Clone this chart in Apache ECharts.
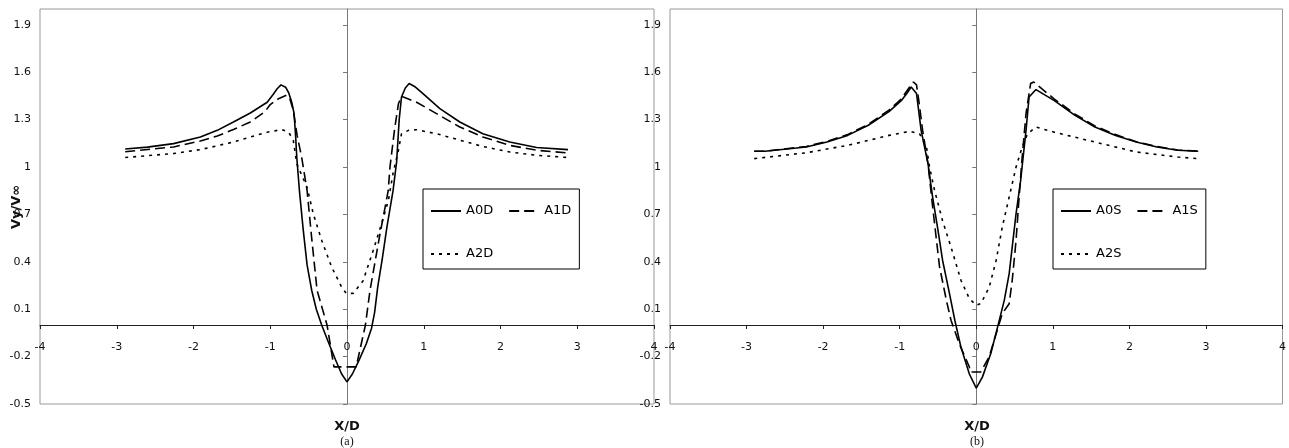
<!DOCTYPE html>
<html>
<head>
<meta charset="utf-8">
<script src="https://cdn.jsdelivr.net/npm/echarts@6/dist/echarts.min.js"></script>
<style>
html,body{margin:0;padding:0;background:#fff;}
#chart{width:1289px;height:448px;}
</style>
</head>
<body>
<div id="chart"></div>
<script>
// ---- tick labels ----
const xTicks = [-4, -3, -2, -1, 0, 1, 2, 3, 4];
const yTicks = [-0.5, -0.2, 0.1, 0.4, 0.7, 1, 1.3, 1.6, 1.9];

// ---- panel (a) ----
const a0dX = [-2.89, -2.6, -2.26, -1.91, -1.69, -1.48, -1.26, -1.04, -0.96, -0.91, -0.86, -0.80, -0.76, -0.72, -0.69, -0.67, -0.654, -0.62, -0.57, -0.52, -0.46, -0.40, -0.33, -0.25, -0.15, -0.07, 0, 0.07, 0.15, 0.25, 0.32, 0.36, 0.40, 0.46, 0.52, 0.60, 0.646, 0.68, 0.71, 0.76, 0.81, 0.88, 0.99, 1.21, 1.47, 1.77, 2.12, 2.47, 2.88];
const a0dY = [1.114, 1.126, 1.148, 1.19, 1.232, 1.285, 1.342, 1.41, 1.46, 1.495, 1.52, 1.505, 1.47, 1.41, 1.34, 1.2, 1.06, 0.85, 0.6, 0.38, 0.22, 0.1, 0.0, -0.1, -0.22, -0.31, -0.36, -0.31, -0.23, -0.12, -0.02, 0.08, 0.24, 0.42, 0.62, 0.85, 1.03, 1.3, 1.443, 1.50, 1.528, 1.51, 1.465, 1.37, 1.285, 1.21, 1.158, 1.123, 1.11];

const a1dX = [-2.89, -2.26, -1.91, -1.69, -1.48, -1.26, -1.07, -1.0, -0.9, -0.79, -0.75, -0.70, -0.65, -0.59, -0.52, -0.46, -0.39, -0.26, -0.17, 0.12, 0.24, 0.30, 0.42, 0.537, 0.56, 0.62, 0.67, 0.71, 0.80, 0.906, 1.166, 1.47, 1.77, 2.12, 2.47, 2.87];
const a1dY = [1.097, 1.127, 1.165, 1.196, 1.237, 1.285, 1.35, 1.395, 1.43, 1.454, 1.44, 1.36, 1.2, 1.06, 0.85, 0.55, 0.22, 0.0, -0.265, -0.265, 0.0, 0.22, 0.55, 0.85, 1.0, 1.24, 1.40, 1.447, 1.43, 1.41, 1.338, 1.253, 1.19, 1.137, 1.106, 1.089];

const a2dX = [-2.89, -2.26, -1.91, -1.48, -1.26, -1.04, -0.85, -0.76, -0.70, -0.654, -0.52, -0.44, -0.33, -0.2, -0.07, -0.01, 0.08, 0.21, 0.34, 0.45, 0.54, 0.60, 0.67, 0.71, 0.80, 0.906, 1.17, 1.47, 1.77, 2.12, 2.47, 2.88];
const a2dY = [1.06, 1.085, 1.11, 1.158, 1.19, 1.22, 1.237, 1.22, 1.17, 1.02, 0.87, 0.705, 0.536, 0.367, 0.24, 0.2, 0.2, 0.28, 0.47, 0.64, 0.79, 0.96, 1.106, 1.21, 1.232, 1.236, 1.21, 1.17, 1.13, 1.095, 1.074, 1.06];

// ---- panel (b) ----
const a0sX = [-2.9, -2.76, -2.22, -1.95, -1.68, -1.41, -1.14, -0.98, -0.90, -0.85, -0.78, -0.72, -0.63, -0.57, -0.50, -0.44, -0.35, -0.28, -0.2, -0.09, 0, 0.08, 0.19, 0.28, 0.366, 0.43, 0.47, 0.52, 0.58, 0.65, 0.69, 0.78, 0.80, 1.02, 1.29, 1.55, 1.82, 2.09, 2.36, 2.63, 2.9];
const a0sY = [1.10, 1.10, 1.127, 1.158, 1.20, 1.264, 1.35, 1.42, 1.47, 1.506, 1.465, 1.232, 1.02, 0.81, 0.60, 0.41, 0.2, 0.03, -0.14, -0.31, -0.40, -0.33, -0.18, -0.01, 0.156, 0.325, 0.494, 0.705, 0.916, 1.232, 1.443, 1.49, 1.50, 1.42, 1.327, 1.253, 1.20, 1.158, 1.127, 1.106, 1.10];

const a1sX = [-2.9, -2.76, -2.22, -1.95, -1.68, -1.41, -1.14, -0.98, -0.88, -0.82, -0.78, -0.75, -0.70, -0.63, -0.57, -0.48, -0.39, -0.33, -0.22, -0.09, -0.08, 0.06, 0.17, 0.26, 0.34, 0.43, 0.47, 0.52, 0.56, 0.60, 0.65, 0.71, 0.75, 1.02, 1.29, 1.55, 1.82, 2.09, 2.36, 2.63, 2.9];
const a1sY = [1.10, 1.10, 1.13, 1.162, 1.205, 1.27, 1.36, 1.43, 1.50, 1.538, 1.52, 1.42, 1.23, 1.02, 0.75, 0.37, 0.156, 0.03, -0.12, -0.266, -0.297, -0.297, -0.2, -0.055, 0.072, 0.135, 0.283, 0.536, 0.81, 1.063, 1.338, 1.528, 1.538, 1.43, 1.335, 1.26, 1.205, 1.16, 1.13, 1.108, 1.10];

const a2sX = [-2.9, -2.22, -1.68, -1.14, -0.87, -0.74, -0.65, -0.61, -0.545, -0.44, -0.33, -0.2, -0.09, 0, 0.06, 0.17, 0.26, 0.34, 0.43, 0.52, 0.60, 0.67, 0.78, 1.02, 1.55, 2.09, 2.63, 2.9];
const a2sY = [1.053, 1.09, 1.137, 1.20, 1.226, 1.21, 1.127, 1.0, 0.853, 0.66, 0.494, 0.283, 0.167, 0.125, 0.135, 0.24, 0.41, 0.62, 0.81, 1.0, 1.127, 1.21, 1.253, 1.22, 1.158, 1.095, 1.063, 1.053];

const seriesNamesA = ['A0D', 'A1D', 'A2D'];
const seriesNamesB = ['A0S', 'A1S', 'A2S'];

function zip(xs, ys) { return xs.map((x, i) => [x, ys[i]]); }

const FONT = 'DejaVu Sans';
const styles = [
  { type: 'solid', width: 1.6 },
  { type: [10, 5], width: 1.6 },
  { type: [3, 5], width: 1.6 }
];

function mkX(gi, offset) {
  return {
    type: 'value', gridIndex: gi, min: -4, max: 4, interval: 1,
    position: 'bottom', offset: offset,
    axisLine: { onZero: false, lineStyle: { color: '#222', width: 1 } },
    axisTick: { show: true, length: 4, lineStyle: { color: '#222' } },
    axisLabel: { margin: 17, fontFamily: FONT, fontSize: 11, color: '#111' },
    splitLine: { show: false }
  };
}
function mkY(gi) {
  return {
    type: 'value', gridIndex: gi, min: -0.5, max: 2.0,
    axisLine: { show: true, onZero: true, lineStyle: { color: '#777', width: 1 } },
    axisTick: { show: true, length: 4, customValues: yTicks, lineStyle: { color: '#777' } },
    axisLabel: { margin: 9, fontFamily: FONT, fontSize: 11, color: '#111', customValues: yTicks },
    splitLine: { show: false }
  };
}
function mkSeries(names, arrs, gi) {
  return names.map((n, i) => ({
    name: n, type: 'line', xAxisIndex: gi, yAxisIndex: gi,
    data: zip(arrs[i][0], arrs[i][1]),
    symbol: 'none', smooth: false, silent: true, animation: false,
    itemStyle: { color: '#000' },
    lineStyle: { color: '#000', type: styles[i].type, width: styles[i].width }
  }));
}
function mkLegend(names, left) {
  return {
    data: names, left: left, top: 189, width: 145, orient: 'horizontal',
    itemWidth: 30, itemHeight: 14, itemGap: 15,
    padding: [8, 8, 1, 7],
    borderColor: '#000', borderWidth: 1, backgroundColor: '#fff',
    itemStyle: { opacity: 0, borderWidth: 0 },
    textStyle: { fontFamily: FONT, fontSize: 13, color: '#000', lineHeight: 28 },
    selectedMode: false
  };
}

const chart = echarts.init(document.getElementById('chart'), null, { renderer: 'canvas' });
chart.setOption({
  animation: false,
  backgroundColor: '#fff',
  grid: [
    { left: 40, top: 9, width: 614, height: 395, show: true, borderColor: '#999', borderWidth: 1, containLabel: false },
    { left: 670, top: 9, width: 614, height: 395, show: true, borderColor: '#999', borderWidth: 1, containLabel: false }
  ],
  xAxis: [mkX(0, 0), mkX(1, 0)],
  yAxis: [mkY(0), mkY(1)],
  legend: [mkLegend(seriesNamesA, 423), mkLegend(seriesNamesB, 1053)],
  series: [].concat(
    mkSeries(seriesNamesA, [[a0dX, a0dY], [a1dX, a1dY], [a2dX, a2dY]], 0),
    mkSeries(seriesNamesB, [[a0sX, a0sY], [a1sX, a1sY], [a2sX, a2sY]], 1)
  ),
  graphic: [
    { type: 'text', x: 17, y: 207, rotation: Math.PI / 2,
      style: { text: 'Vy/V∞', font: 'bold 13px "DejaVu Sans"', fill: '#111', textAlign: 'center', textVerticalAlign: 'middle' } },
    { type: 'text', x: 347, y: 427,
      style: { text: 'X/D', font: 'bold 13px "DejaVu Sans"', fill: '#111', textAlign: 'center', textVerticalAlign: 'middle' } },
    { type: 'text', x: 347, y: 442,
      style: { text: '(a)', font: '12px "Liberation Serif"', fill: '#111', textAlign: 'center', textVerticalAlign: 'middle' } },
    { type: 'text', x: 977, y: 427,
      style: { text: 'X/D', font: 'bold 13px "DejaVu Sans"', fill: '#111', textAlign: 'center', textVerticalAlign: 'middle' } },
    { type: 'text', x: 977, y: 442,
      style: { text: '(b)', font: '12px "Liberation Serif"', fill: '#111', textAlign: 'center', textVerticalAlign: 'middle' } }
  ]
});
// place each x axis line (with its labels) at y = 0 of its own y scale
const offs = [0, 1].map(gi => {
  const zeroPx = chart.convertToPixel({ gridIndex: gi }, [0, 0])[1];
  const minPx = chart.convertToPixel({ gridIndex: gi }, [0, -0.5])[1];
  return zeroPx - minPx;
});
chart.setOption({ xAxis: [{ offset: offs[0] }, { offset: offs[1] }] });
</script>
</body>
</html>
